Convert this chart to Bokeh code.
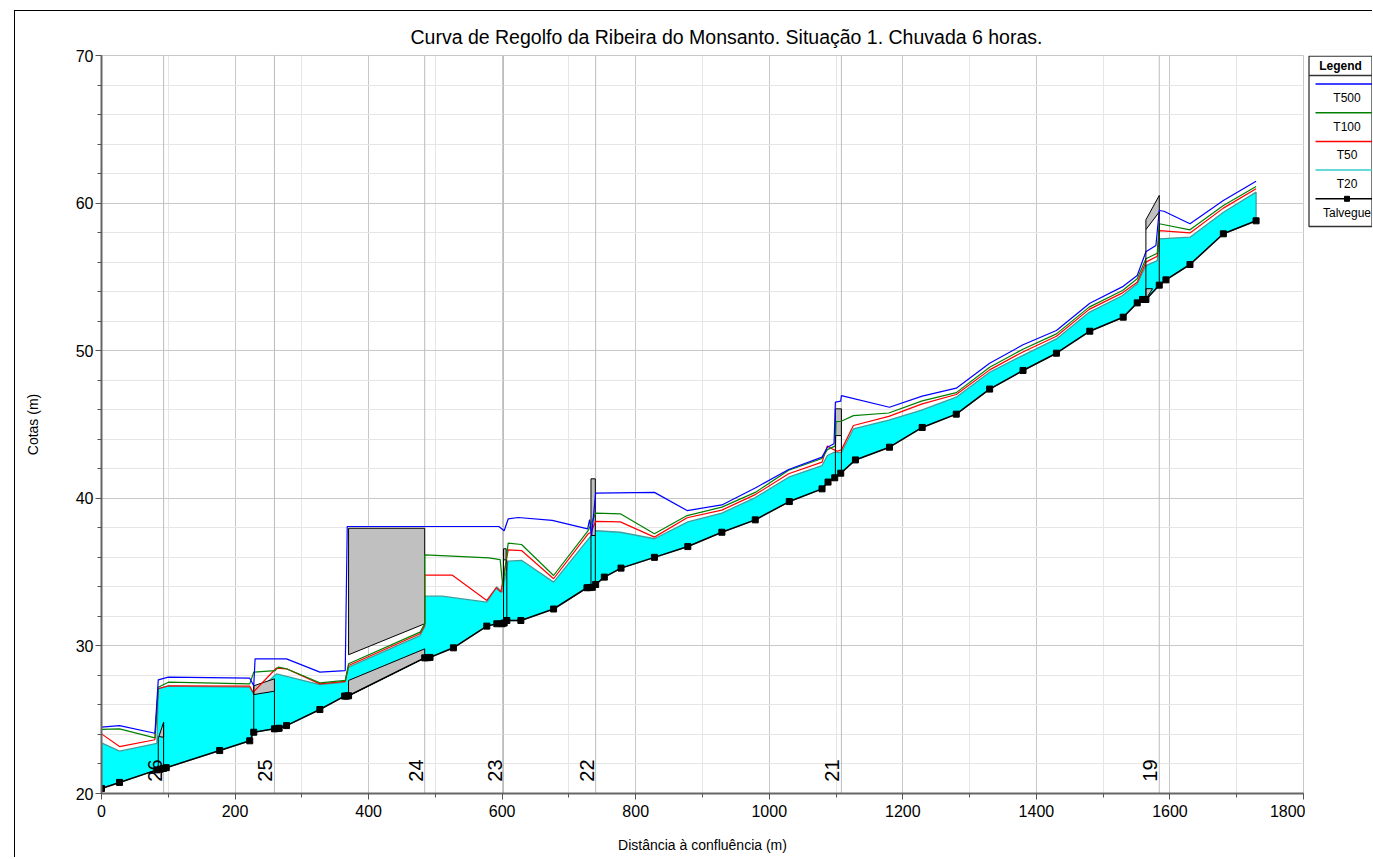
import numpy as np
from bokeh.plotting import figure
from bokeh.layouts import row
from bokeh.models import Range1d, SingleIntervalTicker
from bokeh.core.properties import value
from bokeh.embed import file_html
from bokeh.resources import INLINE

FONT = "Liberation Sans"
TITLE = "Curva de Regolfo da Ribeira do Monsanto. Situação 1. Chuvada 6 horas."
X_LABEL = "Distância à confluência (m)"
Y_LABEL = "Cotas (m)"

# ---- thalweg (Talvegue)
talv_x = [0, 27, 83, 88, 93, 97, 177, 222, 228, 259, 263, 266, 277, 327, 364, 367, 370, 484, 488, 492,
          527, 577, 592, 600, 603, 607, 628, 677, 727, 731, 735, 740, 753, 778, 828, 878, 929, 979, 1030, 1079,
          1088, 1098, 1107, 1129, 1180, 1229, 1280, 1330, 1380, 1430, 1480, 1530, 1551, 1559, 1564, 1584, 1594,
          1630, 1680, 1729]
talv_y = [20.34, 20.75, 21.6, 21.65, 21.7, 21.75, 22.91, 23.57, 24.15, 24.38, 24.4, 24.42, 24.6, 25.69, 26.6,
          26.6, 26.62, 29.19, 29.2, 29.22, 29.87, 31.34, 31.5, 31.5, 31.55, 31.72, 31.72, 32.5, 33.94, 33.95,
          33.97, 34.16, 34.66, 35.27, 36.0, 36.73, 37.7, 38.54, 39.78, 40.64, 41.1, 41.39, 41.7, 42.6, 43.46,
          44.8, 45.7, 47.4, 48.66, 49.83, 51.32, 52.27, 53.24, 53.47, 53.47, 54.44, 54.8, 55.84, 57.92, 58.8]

# ---- water surfaces
t20_x = [0, 27, 83, 85, 100, 222, 228, 262, 327, 365, 370, 477, 484, 484, 510, 577, 592, 600, 609, 629,
         677, 732, 740, 777, 828, 878, 929, 979, 1029, 1079, 1087, 1097, 1108, 1126, 1179, 1227, 1280, 1330,
         1379, 1430, 1479, 1529, 1551, 1564, 1581, 1584, 1630, 1680, 1729]
t20_y = [23.43, 22.87, 23.4, 27.1, 27.27, 27.2, 26.72, 28.1, 27.38, 27.54, 28.56, 30.7, 31.3, 33.37, 33.37,
         32.96, 34.0, 33.64, 35.74, 35.8, 34.32, 37.4, 37.8, 37.7, 37.26, 38.4, 39.0, 40.05, 41.43, 42.22,
         42.9, 43.12, 43.1, 44.7, 45.3, 45.95, 46.85, 48.54, 49.67, 50.8, 52.6, 53.74, 54.53, 55.77, 56.1,
         57.58, 57.69, 59.38, 60.74]

t50_x = [0, 27, 80, 85, 100, 222, 227, 262, 277, 327, 365, 370, 477, 484, 484, 525, 577, 591, 598, 609,
         629, 677, 729, 733, 740, 777, 828, 877, 929, 979, 1029, 1079, 1087, 1094, 1102, 1108, 1126, 1179,
         1229, 1280, 1330, 1379, 1430, 1479, 1529, 1551, 1564, 1581, 1584, 1630, 1680, 1729]
t50_y = [24.04, 23.18, 23.64, 27.1, 27.3, 27.27, 26.86, 28.5, 28.45, 27.43, 27.6, 28.67, 30.82, 31.4, 34.8,
         34.8, 33.08, 33.94, 33.64, 36.5, 36.46, 34.55, 37.6, 37.7, 38.43, 38.4, 37.37, 38.68, 39.2, 40.25,
         41.66, 42.45, 43.55, 43.35, 43.19, 43.28, 44.93, 45.55, 46.4, 47.03, 48.7, 49.9, 50.98, 52.8, 53.92,
         54.64, 56.0, 56.4, 58.14, 57.98, 59.66, 60.97]

t100_x = [0, 27, 80, 85, 100, 222, 228, 260, 265, 277, 327, 365, 370, 477, 484, 484, 525, 580, 597, 601,
          609, 629, 677, 729, 740, 777, 828, 877, 929, 979, 1029, 1079, 1087, 1099, 1100, 1108, 1126, 1179,
          1229, 1280, 1330, 1379, 1430, 1479, 1529, 1551, 1564, 1581, 1584, 1630, 1680, 1729]
t100_y = [24.34, 24.38, 23.77, 27.2, 27.54, 27.43, 28.22, 28.33, 28.56, 28.45, 27.5, 27.66, 28.79, 30.93,
          31.5, 36.17, 36.08, 35.97, 35.85, 34.0, 36.96, 36.87, 34.77, 37.82, 39.0, 38.95, 37.6, 38.83, 39.4,
          40.4, 41.9, 42.7, 43.3, 43.55, 45.2, 45.22, 45.6, 45.78, 46.6, 47.16, 48.88, 50.08, 51.14, 52.95,
          54.08, 54.87, 56.23, 56.6, 58.6, 58.19, 59.84, 61.12]

t500_x = [0, 27, 80, 85, 100, 222, 228, 230, 277, 327, 365, 368, 595, 603, 609, 624, 675, 728, 731, 734,
          740, 828, 877, 929, 979, 1029, 1079, 1087, 1097, 1099, 1107, 1108, 1180, 1229, 1280, 1330, 1380,
          1430, 1480, 1530, 1551, 1564, 1579, 1584, 1591, 1630, 1680, 1729]
t500_y = [24.5, 24.6, 24.08, 27.7, 27.88, 27.81, 27.3, 29.12, 29.12, 28.22, 28.33, 38.09, 38.09, 37.8, 38.6,
          38.7, 38.5, 37.93, 38.56, 37.48, 40.35, 40.4, 39.17, 39.55, 40.7, 41.95, 42.79, 43.46, 43.69, 46.51,
          46.58, 46.96, 46.17, 46.92, 47.46, 49.15, 50.4, 51.37, 53.22, 54.36, 55.1, 56.7, 57.13, 59.5, 59.45,
          58.6, 60.17, 61.48]

# ---- structures (bridges / culvert) : polygons in (distance, elevation)
struct_xs = [[86, 93, 93], [228, 259, 259, 228], [370, 370, 484, 484], [370, 370, 484, 484],
             [602, 606, 606, 602], [733, 739.5, 739.5, 733], [1099, 1108, 1108, 1099],
             [1564, 1584, 1584, 1564], [1564, 1574, 1564]]
struct_ys = [[23.86, 24.83, 23.81], [27.3, 27.77, 26.93, 26.7], [29.4, 37.97, 37.97, 31.5],
             [26.62, 27.66, 29.8, 29.19], [35.83, 35.83, 36.58, 36.58], [37.48, 37.48, 41.32, 41.32],
             [44.25, 44.25, 46.06, 46.06], [58.87, 60.52, 59.4, 58.2], [53.5, 54.2, 54.2]]
pier_x = [85, 93, 228, 259, 602, 607, 733, 739.5, 1099, 1108, 1564, 1584]
pier_top = [23.86, 24.83, 27.3, 27.77, 35.83, 35.83, 37.48, 37.48, 44.25, 44.25, 58.2, 59.4]

# ---- cross-section markers
sec_x = [93, 259, 484, 602, 740, 1108, 1584]
sec_labels = ["26", "25", "24", "23", "22", "21", "19"]

# ---- legend
leg_labels = ["T500", "T100", "T50", "T20", "Talvegue"]
leg_colors = ["#0000ff", "#008000", "#ff0000", "#33cccc", "#000000"]

BLUE, GREEN, RED = "#0000ff", "#008000", "#ff0000"

p = figure(width=1290, height=846, x_range=Range1d(0, 1800), y_range=Range1d(20, 70),
           output_backend="svg", toolbar_location=None, title=TITLE,
           min_border_left=86, min_border_right=2, min_border_top=44, min_border_bottom=64)
p.background_fill_color = "white"
p.border_fill_color = "white"
p.outline_line_color = "#c8c8c8"

p.title.text_font = FONT
p.title.text_font_size = "19.5px"
p.title.text_font_style = "normal"
p.title.text_color = "black"
p.title.align = "left"
p.title.offset = 309
p.title.standoff = 16

p.xaxis.ticker = SingleIntervalTicker(interval=200, num_minor_ticks=2)
p.yaxis.ticker = SingleIntervalTicker(interval=10, num_minor_ticks=5)
p.xaxis.axis_label = X_LABEL
p.yaxis.axis_label = Y_LABEL
for ax in p.axis:
    ax.axis_line_color = "#666666"
    ax.axis_line_width = 2
    ax.major_tick_line_color = "#555555"
    ax.minor_tick_line_color = "#555555"
    ax.major_tick_out = 6
    ax.major_tick_in = 0
    ax.minor_tick_out = 4
    ax.minor_tick_in = 0
    ax.major_label_text_font = FONT
    ax.major_label_text_font_size = "16px"
    ax.major_label_text_color = "black"
    ax.axis_label_text_font = FONT
    ax.axis_label_text_font_size = "14px"
    ax.axis_label_text_font_style = "normal"
    ax.axis_label_text_color = "black"
p.yaxis.major_label_standoff = 2
p.xaxis.major_label_standoff = 5
p.yaxis.axis_label_standoff = 32
p.xaxis.axis_label_standoff = 17

for g in (p.xgrid, p.ygrid):
    g.grid_line_color = "#c8c8c8"
    g.minor_grid_line_color = "#e6e6e6"

# section lines
p.segment(x0=sec_x, y0=[20] * len(sec_x), x1=sec_x, y1=[70] * len(sec_x), line_color="#bcbcbc", line_width=1)

# T20 filled area (between water surface and thalweg)
p.patch(t20_x + talv_x[::-1], t20_y + talv_y[::-1], fill_color="#00ffff", line_color="#3f9f9f", line_width=1.3)

# structures
p.patches(struct_xs, struct_ys, fill_color="#c0c0c0", line_color="black", line_width=1)

# water lines
p.line(t50_x, t50_y, line_color=RED, line_width=1.2)
p.line(t100_x, t100_y, line_color=GREEN, line_width=1.2)
p.line(t500_x, t500_y, line_color=BLUE, line_width=1.2)

# piers / bridge abutments
pier_bot = list(np.interp(pier_x, talv_x, talv_y))
p.segment(x0=pier_x, y0=pier_bot, x1=pier_x, y1=pier_top, line_color="black", line_width=1)

# thalweg
p.line(talv_x, talv_y, line_color="black", line_width=1.5)
p.scatter(talv_x, talv_y, marker="square", size=6, color="black")

# section labels
p.text(x=sec_x, y=[20.8] * len(sec_x), text=sec_labels, angle=np.pi / 2, x_offset=-9,
       text_font=value(FONT), text_font_size="20px", text_align="left", text_baseline="alphabetic",
       text_color="black")

# ---- legend panel (coordinates = page pixels; its frame is aligned with the main frame)
leg = figure(width=67, height=846, x_range=Range1d(1305, 1372), y_range=Range1d(793, 55),
             output_backend="svg", toolbar_location=None, x_axis_location=None, y_axis_location=None,
             min_border=0)
leg.grid.visible = False
leg.outline_line_color = None
leg.background_fill_color = "white"
leg.border_fill_color = "white"
leg.quad(left=1308.5, right=1371.5, top=55.7, bottom=226, fill_color="white", line_color="#333333",
         line_width=1.3)
leg.segment(x0=1308.5, y0=75, x1=1371.5, y1=75, line_color="#333333", line_width=1.3)
leg.text(x=[1340], y=[65], text=["Legend"], text_font=value(FONT), text_font_size="12px",
         text_font_style="bold", text_align="center", text_baseline="middle", text_color="black")
n = len(leg_labels)
line_y = [83.5 + 28.7 * i for i in range(n)]
text_y = [v + 14 for v in line_y]
leg.segment(x0=[1315] * n, y0=line_y, x1=[1372] * n, y1=line_y, line_color=leg_colors, line_width=1.5)
leg.scatter(x=[1346.5], y=[line_y[-1]], marker="square", size=5, color="black")
leg.text(x=[1346.5] * n, y=text_y, text=leg_labels, text_font=value(FONT), text_font_size="12px",
         text_align="center", text_baseline="middle", text_color="black")

layout = row(p, leg, styles={"margin-left": "14px", "margin-top": "10px",
                             "border-left": "1px solid #000", "border-top": "1px solid #000"})

open("out.html", "w").write(file_html(layout, INLINE))
